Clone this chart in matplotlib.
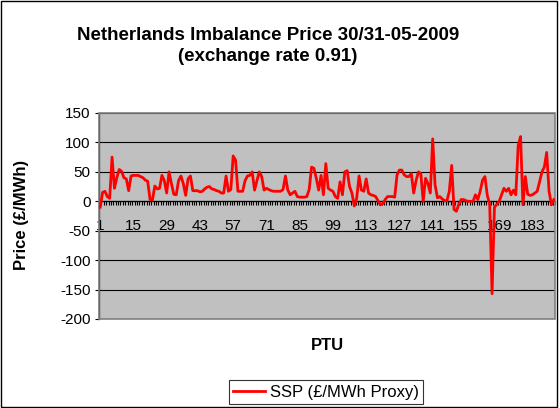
import numpy as np
import matplotlib
matplotlib.use("Agg")
import matplotlib.pyplot as plt
from matplotlib.patches import Rectangle

plt.rcParams['font.family'] = ['Liberation Sans', 'DejaVu Sans']

# SSP per PTU (quarter hours over 30 and 31 May 2009), GBP/MWh proxy
ssp = [
    -10, 15, 17, 8, 5, 75, 22, 40, 54, 51,
    40, 38, 18, 43, 44, 44, 44, 42, 40, 36,
    34, 3, 2, 26, 21, 22, 44, 35, 14, 50,
    30, 12, 11, 35, 43, 30, 10, 38, 43, 18,
    18, 18, 16, 17, 21, 24, 25, 21, 20, 18,
    17, 14, 14, 43, 17, 20, 77, 70, 17, 17,
    17, 35, 43, 44, 50, 19, 35, 50, 42, 19,
    22, 20, 18, 17, 17, 17, 17, 20, 43, 19,
    11, 14, 17, 8, 7, 7, 7, 8, 20, 58,
    56, 39, 19, 44, 11, 64, 22, 19, 17, 8,
    5, 33, 11, 50, 52, 25, 14, -8, 5, 43,
    19, 17, 38, 14, 11, 10, 8, 1, -6, -4,
    3, 8, 8, 8, 7, 45, 53, 53, 45, 42,
    42, 47, 14, 35, 50, 47, 0, 39, 30, 14,
    106, 28, 6, 8, 4, 1, 1, 17, 61, -14,
    -17, -5, 3, 3, 1, 0, 0, 0, 11, 3,
    17, 36, 42, 10, -5, -157, -10, -5, 0, 11,
    22, 17, 22, 11, 19, 11, 95, 110, -6, 42,
    12, 10, 11, 14, 17, 33, 50, 58, 83, 17,
    -6, 3,
]
ptu = np.arange(1, len(ssp) + 1)
xtick_labels = list(range(1, 193, 14))
yticks = list(range(-200, 151, 50))

fig = plt.figure(figsize=(5.6, 4.08), dpi=100)
ax = fig.add_axes([99/560, 1-319/408, 456/560, 206/408])
ax.set_facecolor('#C0C0C0')

ax.plot(ptu, ssp, color='#FF0000', lw=2, zorder=5, label='SSP (£/MWh Proxy)')

ax.set_xlim(0.5, len(ssp) + 0.5)
ax.set_ylim(-200, 150)
ax.set_yticks(yticks)
ax.set_yticklabels([str(v) for v in yticks])
ax.yaxis.grid(True, color='black', lw=0.8)
ax.set_axisbelow(True)

# category axis sits at zero, ticks at category boundaries
ax.spines['bottom'].set_position(('data', 0))
ax.spines['bottom'].set_color('black')
ax.spines['bottom'].set_linewidth(0.9)
ax.spines['left'].set_color('black')
ax.spines['left'].set_linewidth(0.9)
ax.spines['top'].set_visible(False)
ax.spines['right'].set_visible(False)
ax.add_patch(Rectangle((0, 0), 1, 1, transform=ax.transAxes, fill=False,
                       ec='#808080', lw=1.2, clip_on=False, zorder=4))

ax.set_xticks(xtick_labels)
ax.set_xticklabels([str(v) for v in xtick_labels])
ax.set_xticks(np.arange(0.5, len(ssp) + 1, 1), minor=True)
ax.tick_params(axis='x', which='major', length=0, pad=13, labelsize=11)
ax.tick_params(axis='x', which='minor', length=3, width=0.8, direction='out')
ax.tick_params(axis='y', length=3, width=0.8, pad=3, labelsize=11)

fig.text(268/560, 1-46/408, 'Netherlands Imbalance Price 30/31-05-2009\n(exchange rate 0.91)',
         ha='center', va='center', fontsize=13.5, fontweight='bold', linespacing=1.33)
fig.text(22/560, 1-215/408, 'Price (£/MWh)', rotation=90, ha='center', va='center',
         fontsize=12, fontweight='bold')
fig.text(327/560, 1-345/408, 'PTU', ha='center', va='center', fontsize=12, fontweight='bold')

leg = fig.legend(loc='center', bbox_to_anchor=(326/560, 1-392/408), fontsize=12,
                 frameon=True, fancybox=False, handlelength=1.9, handletextpad=0.3,
                 borderpad=0.25, borderaxespad=0)
leg.get_frame().set_edgecolor('black')
leg.get_frame().set_linewidth(0.8)

fig.patches.append(Rectangle((1/560, 1/408), 556/560, 406/408, transform=fig.transFigure,
                             fill=False, ec='black', lw=1.0))

fig.savefig('out.png', dpi=100)
